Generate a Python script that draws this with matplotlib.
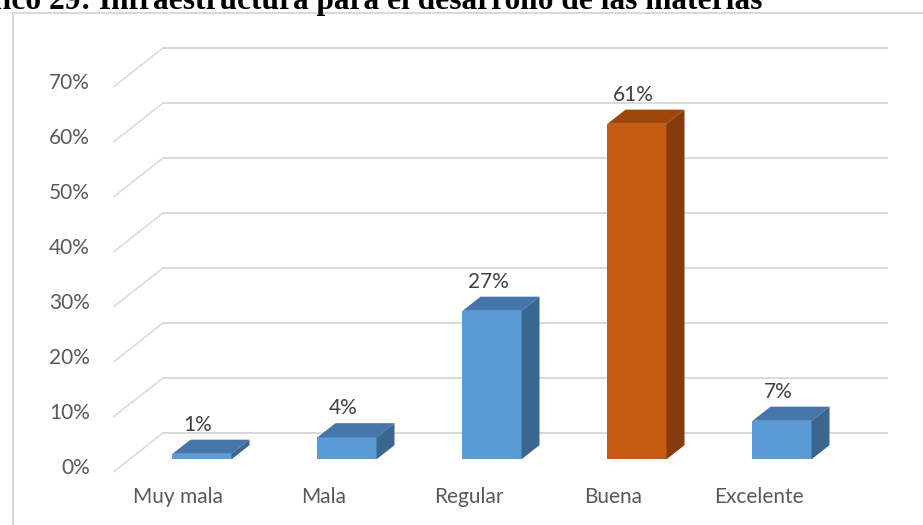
import matplotlib
matplotlib.use("Agg")
import matplotlib.pyplot as plt
from matplotlib.patches import Polygon
from matplotlib.lines import Line2D
import numpy as np

# ---------------- data ----------------
categories = ["Muy mala", "Mala", "Regular", "Buena", "Excelente"]
values = [1, 4, 27, 61, 7]
value_labels = ["1%", "4%", "27%", "61%", "7%"]
y_ticks = [0, 10, 20, 30, 40, 50, 60, 70]
y_tick_labels = ["0%", "10%", "20%", "30%", "40%", "50%", "60%", "70%"]
highlight = "Buena"
title = "Gráfico 29: Infraestructura para el desarrollo de las materias"

# ---------------- styling ----------------
W, H, DPI = 923, 525, 100
PXC = 145.0          # pixels per category
PXV = 5.5            # pixels per percent
SLOPE = 0.786        # oblique depth slope
D_WALL = 49.0        # depth of back wall (px)
D_BAR0, D_BAR1 = 15.5, 33.5
BAR_W = 0.407
ORIGIN_X = 186.5     # pixel x of category 0 at front plane
ORIGIN_Y = 471.5     # pixel row of 0% at front plane

BLUE = ("#5B9BD5", "#4676A9", "#3B6690")
ORANGE = ("#C55A11", "#9C460C", "#843C0C")
GRID = "#D9D9D9"
TICK_C = "#595959"
LABEL_C = "#404040"
FONT = ["Lato", "DejaVu Sans"]
FS = 15

plt.rcParams["font.family"] = FONT

fig = plt.figure(figsize=(W / DPI, H / DPI), dpi=DPI)
ax = fig.add_axes([0, 0, 1, 1])
ax.set_xlim(-ORIGIN_X / PXC, (W - ORIGIN_X) / PXC)
ax.set_ylim(-(H - ORIGIN_Y) / PXV, ORIGIN_Y / PXV)
ax.axis("off")


def proj(c, v, d):
    return (c + d / PXC, v + d * SLOPE / PXV)


n = len(categories)
left_c, right_c = -0.5, n - 0.5

# back wall gridlines and floor diagonals
for t in y_ticks:
    x1, y1 = proj(left_c, t, D_WALL)
    x2, y2 = proj(right_c, t, D_WALL)
    ax.plot([x1, x2], [y1, y2], color=GRID, lw=1.4, zorder=1, solid_capstyle="butt")
    x0, y0 = proj(left_c, t, 0)
    ax.plot([x0, x1], [y0, y1], color=GRID, lw=1.1, zorder=1)

# y tick labels (front plane)
for t, lab in zip(y_ticks, y_tick_labels):
    ax.text((90 - ORIGIN_X) / PXC, t + 0.6, lab, ha="right", va="center",
            fontsize=FS, color=TICK_C)

# bars
for i, (cat, v) in enumerate(zip(categories, values)):
    front, top, side = ORANGE if cat == highlight else BLUE
    xl, xr = i - BAR_W / 2, i + BAR_W / 2
    fl0 = proj(xl, 0, D_BAR0); fr0 = proj(xr, 0, D_BAR0)
    flv = proj(xl, v, D_BAR0); frv = proj(xr, v, D_BAR0)
    bl_v = proj(xl, v, D_BAR1); br_v = proj(xr, v, D_BAR1); br0 = proj(xr, 0, D_BAR1)
    ax.add_patch(Polygon([fl0, fr0, frv, flv], closed=True, fc=front, ec="none", zorder=3))
    ax.add_patch(Polygon([flv, frv, br_v, bl_v], closed=True, fc=top, ec="none", zorder=3))
    ax.add_patch(Polygon([fr0, br0, br_v, frv], closed=True, fc=side, ec="none", zorder=3))
    # data label
    lx = i + (D_BAR0 - 4) / PXC
    ly = bl_v[1] + 15 / PXV
    ax.text(lx, ly, value_labels[i], ha="center", va="center", fontsize=FS,
            color=LABEL_C, zorder=4)
    # category label
    ax.text(i - 8 / PXC, -(497 - ORIGIN_Y) / PXV, cat, ha="center", va="center",
            fontsize=FS, color=TICK_C)

# chart border (cut off at right and bottom)
bx, by = 12.5 / W, 1 - 12.5 / H
fig.add_artist(Line2D([bx, bx], [0, by], transform=fig.transFigure, color=GRID, lw=1.5))
fig.add_artist(Line2D([bx, 1], [by, by], transform=fig.transFigure, color=GRID, lw=1.5))

# title (cropped at the top in the reference)
fig.text(762 / W, 1 - 9 / H, title, ha="right", va="baseline", fontsize=22.6,
         fontweight="bold", family=["Liberation Serif", "DejaVu Serif"], color="black")

fig.savefig("out.png", dpi=DPI)
